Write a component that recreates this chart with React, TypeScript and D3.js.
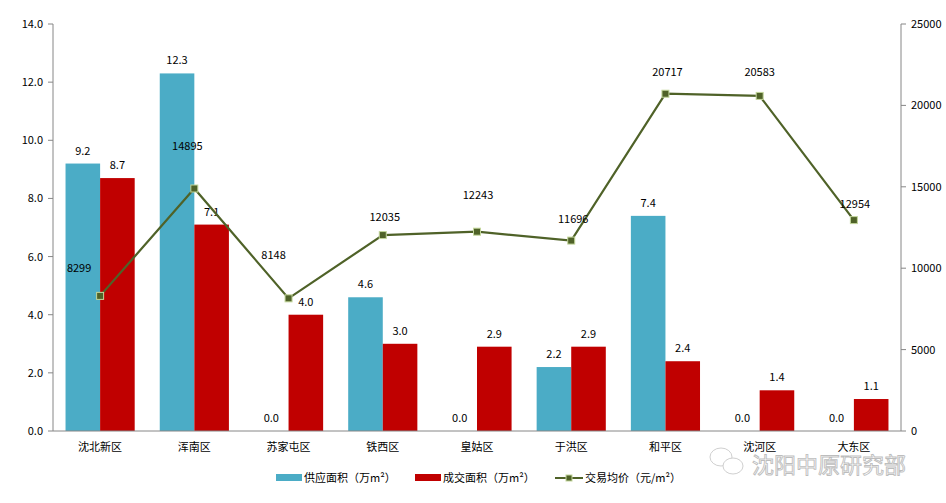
import React from "react";
import * as d3 from "d3";

const categories = ["沈北新区", "浑南区", "苏家屯区", "铁西区", "皇姑区", "于洪区", "和平区", "沈河区", "大东区"];
const supply = [9.2, 12.3, 0.0, 4.6, 0.0, 2.2, 7.4, 0.0, 0.0];
const deal = [8.7, 7.1, 4.0, 3.0, 2.9, 2.9, 2.4, 1.4, 1.1];
const price = [8299, 14895, 8148, 12035, 12243, 11696, 20717, 20583, 12954];
const leftTicks = [0, 2, 4, 6, 8, 10, 12, 14];
const rightTicks = [0, 5000, 10000, 15000, 20000, 25000];
const seriesNames = ["供应面积（万m²）", "成交面积（万m²）", "交易均价（元/m²）"];
// manual label nudges for price labels (dx, dy from point)
const priceLabelDx = [-21, -7, -15, 2, 1, 2, 2, 0, 1];
const priceLabelDy = [-28, -43, -43, -18, -37, -22, -22, -24, -16];

const W = 946, H = 503;
const left = 53, right = 901, top = 24, bottom = 431;
const FONT = "'Noto Sans CJK SC', 'Noto Sans', sans-serif";
const BLUE = "#4bacc6", RED = "#c00000", LINE = "#4f6228";

export default function App() {
  const x = d3.scaleBand<string>().domain(categories).range([left, right]).padding(0);
  const yL = d3.scaleLinear().domain([0, 14]).range([bottom, top]);
  const yR = d3.scaleLinear().domain([0, 25000]).range([bottom, top]);
  const bw = x.bandwidth() * 0.367;
  const cx = (c: string) => (x(c) as number) + x.bandwidth() / 2;
  const line = d3.line<number>().x((_, i) => cx(categories[i])).y((d) => yR(d));

  return (
    <svg width={W} height={H} style={{ position: "absolute", left: 0, top: 0, background: "#fff" }} fontFamily={FONT}>
      <rect width={W} height={H} fill="#fff" />
      {/* bars */}
      {categories.map((c, i) => (
        <g key={c}>
          <rect x={cx(c) - bw} y={yL(supply[i])} width={bw} height={bottom - yL(supply[i])} fill={BLUE} />
          <rect x={cx(c)} y={yL(deal[i])} width={bw} height={bottom - yL(deal[i])} fill={RED} />
          <text x={cx(c) - bw / 2} y={yL(supply[i]) - 9} textAnchor="middle" fontSize={11} fill="#000">{supply[i].toFixed(1)}</text>
          <text x={cx(c) + bw / 2} y={yL(deal[i]) - 9} textAnchor="middle" fontSize={11} fill="#000">{deal[i].toFixed(1)}</text>
        </g>
      ))}
      {/* axes */}
      <line x1={left} x2={left} y1={top} y2={bottom} stroke="#868686" />
      <line x1={right} x2={right} y1={top} y2={bottom} stroke="#868686" />
      <line x1={left} x2={right} y1={bottom} y2={bottom} stroke="#868686" />
      {leftTicks.map((t) => (
        <g key={"l" + t}>
          <line x1={left - 5} x2={left} y1={yL(t)} y2={yL(t)} stroke="#868686" />
          <text x={left - 10} y={yL(t) + 4} textAnchor="end" fontSize={11} fill="#000">{t.toFixed(1)}</text>
        </g>
      ))}
      {rightTicks.map((t) => (
        <g key={"r" + t}>
          <line x1={right} x2={right + 5} y1={yR(t)} y2={yR(t)} stroke="#868686" />
          <text x={right + 10} y={yR(t) + 4} textAnchor="start" fontSize={11} fill="#000">{t}</text>
        </g>
      ))}
      {categories.map((c) => (
        <text key={"c" + c} x={cx(c)} y={451} textAnchor="middle" fontSize={11} fill="#000">{c}</text>
      ))}
      {/* line */}
      <path d={line(price) || ""} fill="none" stroke={LINE} strokeWidth={2.2} />
      {price.map((p, i) => (
        <g key={"p" + i}>
          <rect x={cx(categories[i]) - 3.5} y={yR(p) - 3.5} width={7} height={7} fill={LINE} stroke="#c3d69b" strokeWidth={1} />
          <text x={cx(categories[i]) + priceLabelDx[i]} y={yR(p) + priceLabelDy[i] + 4} textAnchor="middle" fontSize={11} fill="#000">{p}</text>
        </g>
      ))}
      {/* legend */}
      <rect x={276} y={474} width={26} height={7} fill={BLUE} />
      <text x={304} y={482} fontSize={11} fill="#000">{seriesNames[0]}</text>
      <rect x={415} y={474} width={26} height={7} fill={RED} />
      <text x={443} y={482} fontSize={11} fill="#000">{seriesNames[1]}</text>
      <line x1={555} x2={583} y1={478} y2={478} stroke={LINE} strokeWidth={2} />
      <rect x={566} y={475} width={6} height={6} fill={LINE} stroke="#c3d69b" strokeWidth={1} />
      <text x={585} y={482} fontSize={11} fill="#000">{seriesNames[2]}</text>
      {/* watermark */}
      <g opacity={0.55}>
        <ellipse cx={721} cy={457} rx={11} ry={9} fill="none" stroke="#aaa" strokeWidth={1} />
        <ellipse cx={733} cy={466} rx={10} ry={8} fill="#fff" stroke="#aaa" strokeWidth={1} />
        <text x={752} y={473} fontSize={22} fill="#fff" stroke="#888" strokeWidth={0.9}>沈阳中原研究部</text>
      </g>
    </svg>
  );
}
